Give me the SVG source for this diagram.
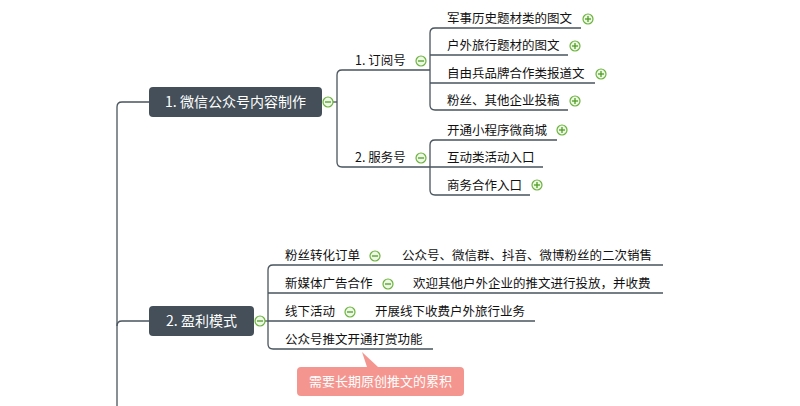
<svg xmlns="http://www.w3.org/2000/svg" width="800" height="406" viewBox="0 0 800 406">
<defs>
<style>
.ln{fill:none;stroke:#4a545e;stroke-width:1.3}
.t{font-family:"Noto Sans CJK SC","Noto Sans",sans-serif;font-size:12.5px;fill:#111}
.nt{font-family:"Noto Sans CJK SC","Noto Sans",sans-serif;font-size:14px;fill:#fff}
.nb{fill:#444f59}
.ic{fill:#eef8e6;stroke:#6db33f;stroke-width:1.2}
.ig{stroke:#4f9e22;stroke-width:1.3}
</style>
<g id="minus"><circle class="ic" r="5"/><line class="ig" x1="-3" y1="0" x2="3" y2="0"/></g>
<g id="plus"><circle class="ic" r="5"/><line class="ig" x1="-3" y1="0" x2="3" y2="0"/><line class="ig" x1="0" y1="-3" x2="0" y2="3"/></g>
</defs>
<rect width="800" height="406" fill="#fff"/>
<g id="connectors">
<path class="ln" d="M149 102 H122 Q117 102 117 107 V406"/>
<path class="ln" d="M117 326 Q117 321 122 321 H149"/>
<path class="ln" d="M333 102 H337"/>
<path class="ln" d="M430 70 H342 Q337 70 337 75 V162 Q337 167 342 167 H430"/>
<path class="ln" d="M581 28 H435 Q430 28 430 33 V105 Q430 110 435 110 H568"/>
<path class="ln" d="M430 55 H568"/>
<path class="ln" d="M430 83 H595"/>
<path class="ln" d="M557 140 H435 Q430 140 430 145 V190 Q430 195 435 195 H530"/>
<path class="ln" d="M430 167 H543"/>
<path class="ln" d="M265 321 H268"/>
<path class="ln" d="M663 265 H273 Q268 265 268 270 V344 Q268 349 273 349 H433"/>
<path class="ln" d="M268 293 H663"/>
<path class="ln" d="M268 321 H535"/>
</g>
<g id="n1"><rect class="nb" x="149" y="87" width="173" height="30" rx="4"/><text class="nt" x="235.5" y="107" text-anchor="middle">1. 微信公众号内容制作</text><use href="#minus" x="328" y="102"/></g>
<g id="n2"><rect class="nb" x="149" y="306" width="105" height="30" rx="4"/><text class="nt" x="201.5" y="326" text-anchor="middle">2. 盈利模式</text><use href="#minus" x="260" y="321"/></g>
<g id="n11"><text class="t" x="355" y="65">1. 订阅号</text><use href="#minus" x="421" y="61"/></g>
<g id="n111"><text class="t" x="447" y="23">军事历史题材类的图文</text><use href="#plus" x="588" y="19"/></g>
<g id="n112"><text class="t" x="447" y="50">户外旅行题材的图文</text><use href="#plus" x="575" y="46"/></g>
<g id="n113"><text class="t" x="447" y="78">自由兵品牌合作类报道文</text><use href="#plus" x="601" y="74"/></g>
<g id="n114"><text class="t" x="447" y="105">粉丝、其他企业投稿</text><use href="#plus" x="575" y="101"/></g>
<g id="n12"><text class="t" x="355" y="162">2. 服务号</text><use href="#minus" x="421" y="158"/></g>
<g id="n121"><text class="t" x="447" y="135">开通小程序微商城</text><use href="#plus" x="562" y="130"/></g>
<g id="n122"><text class="t" x="447" y="162">互动类活动入口</text></g>
<g id="n123"><text class="t" x="447" y="190">商务合作入口</text><use href="#plus" x="537" y="185"/></g>
<g id="n21"><text class="t" x="285" y="260">粉丝转化订单</text><use href="#minus" x="375" y="256"/></g>
<g id="n211"><text class="t" x="402" y="260">公众号、微信群、抖音、微博粉丝的二次销售</text></g>
<g id="n22"><text class="t" x="285" y="288">新媒体广告合作</text><use href="#minus" x="388" y="284"/></g>
<g id="n221"><text class="t" x="413" y="288">欢迎其他户外企业的推文进行投放，并收费</text></g>
<g id="n23"><text class="t" x="285" y="316">线下活动</text><use href="#minus" x="350" y="312"/></g>
<g id="n231"><text class="t" x="375" y="316">开展线下收费户外旅行业务</text></g>
<g id="n24"><text class="t" x="285" y="344">公众号推文开通打赏功能</text></g>
<g id="callout"><path d="M362 352 L367 367 H378 Z" fill="#f4968f"/><rect x="297" y="367" width="167" height="29" rx="4" fill="#f4968f"/><text class="nt" x="380.5" y="386" text-anchor="middle" style="font-size:13px">需要长期原创推文的累积</text></g>
</svg>
